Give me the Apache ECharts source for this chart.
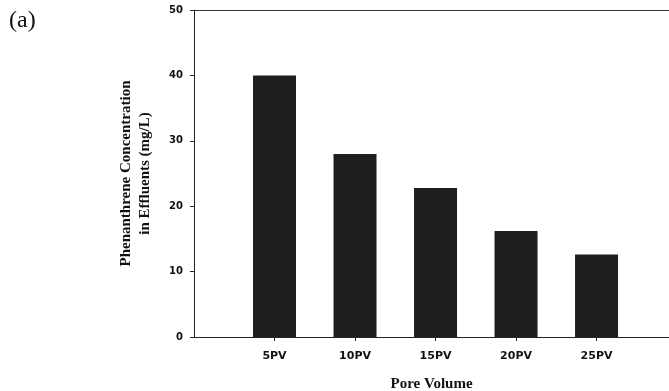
<!DOCTYPE html>
<html>
<head>
<meta charset="utf-8">
<script src="https://cdn.jsdelivr.net/npm/echarts@6/dist/echarts.min.js"></script>
<style>
  html, body { margin: 0; padding: 0; background: #fff; }
  #chart { width: 669px; height: 391px; }
</style>
</head>
<body>
<div id="chart"></div>
<script>
// categories and concentrations (mg/L)
var categories = ['5PV', '10PV', '15PV', '20PV', '25PV'];
var concentration = [40, 28, 22.8, 16.2, 12.6];
var yTicks = [0, 10, 20, 30, 40, 50];

var barData = categories.map(function (c, i) { return [i + 1, concentration[i]]; });

var myChart = echarts.init(document.getElementById('chart'));
myChart.setOption({
  animation: false,
  graphic: [{
    type: 'text',
    left: 9,
    top: 9,
    style: { text: '(a)', font: '24px "Liberation Serif"', fill: '#111' }
  }],
  grid: { left: 194, top: 10, right: 0, bottom: 54, outerBoundsMode: 'none' },
  xAxis: [{
    type: 'value',
    min: 0,
    max: 5.9,
    interval: 1,
    name: 'Pore Volume',
    nameLocation: 'middle',
    nameGap: 40,
    nameTextStyle: { fontFamily: 'Liberation Serif', fontWeight: 'bold', fontSize: 15, color: '#111' },
    axisLine: { lineStyle: { color: '#222', width: 1 } },
    axisTick: { length: 4, lineStyle: { color: '#222' }, customValues: [1, 2, 3, 4, 5] },
    axisLabel: {
      customValues: [1, 2, 3, 4, 5],
      margin: 14,
      fontFamily: 'DejaVu Sans', fontWeight: 'bold', fontSize: 11, color: '#111',
      formatter: function (v) { return categories[Math.round(v) - 1] || ''; }
    },
    splitLine: { show: false }
  }, {
    type: 'value',
    position: 'top',
    min: 0,
    max: 5.9,
    axisLine: { show: true, lineStyle: { color: '#333', width: 1 } },
    axisTick: { show: false },
    axisLabel: { show: false },
    splitLine: { show: false }
  }],
  yAxis: {
    type: 'value',
    min: yTicks[0],
    max: yTicks[yTicks.length - 1],
    interval: 10,
    name: 'Phenanthrene Concentration\nin Effluents (mg/L)',
    nameLocation: 'middle',
    nameGap: 39,
    nameTextStyle: { fontFamily: 'Liberation Serif', fontWeight: 'bold', fontSize: 15, color: '#111', lineHeight: 19 },
    axisLine: { show: true, lineStyle: { color: '#222', width: 1 } },
    axisTick: { show: true, length: 4, lineStyle: { color: '#222' } },
    axisLabel: { margin: 11, fontFamily: 'DejaVu Sans', fontWeight: 'bold', fontSize: 10, color: '#111' },
    splitLine: { show: false }
  },
  series: [{
    type: 'bar',
    xAxisIndex: 0,
    barWidth: 43,
    itemStyle: { color: '#1f1f1f' },
    data: barData
  }]
});
</script>
</body>
</html>
